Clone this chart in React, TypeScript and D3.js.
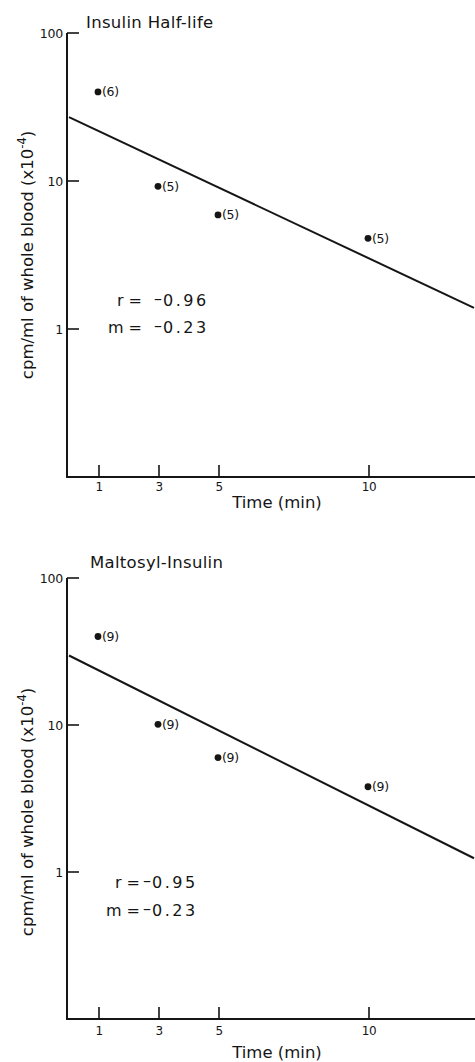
import { useRef, useEffect } from "react";
import * as d3 from "d3";

// sample times (min) and mean counts
const times = [1, 3, 5, 10];
const insulinValues = [40, 9.2, 5.9, 4.1];
const insulinN = [6, 5, 5, 5];
const maltosylValues = [40, 10.1, 6.0, 3.8];
const maltosylN = [9, 9, 9, 9];

// regression line end points (t, value)
const insulinFit = [[0, 27], [13.5, 1.39]];
const maltosylFit = [[0, 29.7], [13.5, 1.24]];

const xTicks = [1, 3, 5, 10];
const yTicks = [1, 10, 100];

const rVals = ["0.96", "0.95"];
const mVals = ["0.23", "0.23"];

const FONT = "'DejaVu Sans', sans-serif";
const INK = "#151515";

interface Panel {
  title: string;
  titleX: number;
  titleY: number;
  top: number;
  bottom: number;
  values: number[];
  n: number[];
  fit: number[][];
  rY: number;
  mY: number;
  eqRight: number;
  valStart: number;
  labelGap: number;
  xTitleY: number;
  yLabelMid: number;
}

const panels: Panel[] = [
  {
    title: "Insulin Half-life", titleX: 86, titleY: 28, top: 33, bottom: 477,
    values: insulinValues, n: insulinN, fit: insulinFit,
    rY: 306, mY: 333, eqRight: 142, valStart: 154, labelGap: 14, xTitleY: 508, yLabelMid: 255,
  },
  {
    title: "Maltosyl-Insulin", titleX: 90, titleY: 568, top: 578, bottom: 1019,
    values: maltosylValues, n: maltosylN, fit: maltosylFit,
    rY: 888, mY: 916, eqRight: 140, valStart: 143, labelGap: 16, xTitleY: 1058, yLabelMid: 812,
  },
];

export default function App() {
  const ref = useRef<SVGSVGElement>(null);

  useEffect(() => {
    if (!ref.current) return;
    const svg = d3.select(ref.current);
    svg.selectAll("*").remove();
    const axisX = 67;
    const x = d3.scaleLinear().domain([0, 13.5]).range([69, 474]);

    panels.forEach((p, pi) => {
      const y = d3.scaleLog().domain([0.1, 100]).range([p.bottom, p.top]);
      const g = svg.append("g");

      // axes
      g.append("line").attr("x1", axisX).attr("x2", axisX).attr("y1", p.top).attr("y2", p.bottom + 1)
        .attr("stroke", INK).attr("stroke-width", 2);
      g.append("line").attr("x1", axisX).attr("x2", 475).attr("y1", p.bottom).attr("y2", p.bottom)
        .attr("stroke", INK).attr("stroke-width", 2);

      yTicks.forEach(v => {
        g.append("line").attr("x1", axisX).attr("x2", axisX + 12).attr("y1", y(v)).attr("y2", y(v))
          .attr("stroke", INK).attr("stroke-width", 1.6);
        g.append("text").attr("x", 63).attr("y", y(v)).attr("dy", "0.36em").attr("text-anchor", "end")
          .attr("font-family", FONT).attr("font-size", 12.5).attr("letter-spacing", -0.2).attr("fill", INK).text(String(v));
      });
      xTicks.forEach(t => {
        g.append("line").attr("x1", x(t)).attr("x2", x(t)).attr("y1", p.bottom).attr("y2", p.bottom - 12)
          .attr("stroke", INK).attr("stroke-width", 1.6);
        g.append("text").attr("x", x(t)).attr("y", p.bottom + p.labelGap).attr("text-anchor", "middle")
          .attr("font-family", FONT).attr("font-size", 12).attr("letter-spacing", -0.4).attr("fill", INK).text(String(t));
      });

      // titles
      g.append("text").attr("x", p.titleX).attr("y", p.titleY).attr("font-family", FONT).attr("font-size", 16.5)
        .attr("letter-spacing", 0.3).attr("fill", INK).text(p.title);
      g.append("text").attr("x", 277).attr("y", p.xTitleY).attr("text-anchor", "middle")
        .attr("font-family", FONT).attr("font-size", 16.5).attr("fill", INK).text("Time (min)");

      const yl = g.append("text")
        .attr("transform", `translate(33,${p.yLabelMid}) rotate(-90)`)
        .attr("text-anchor", "middle").attr("font-family", FONT).attr("font-size", 16.5).attr("fill", INK);
      yl.append("tspan").text("cpm/ml of whole blood (x10");
      yl.append("tspan").attr("dy", -7).attr("font-size", 11.5).text("-4");
      yl.append("tspan").attr("dy", 7).text(")");

      // fit line
      const lineGen = d3.line<number[]>().x(d => x(d[0])).y(d => y(d[1]));
      g.append("path").datum(p.fit).attr("d", lineGen).attr("fill", "none")
        .attr("stroke", INK).attr("stroke-width", 2);

      // points
      times.forEach((t, i) => {
        const cx = x(t) - 1;
        const cy = y(p.values[i]);
        g.append("circle").attr("cx", cx).attr("cy", cy).attr("r", 3.4).attr("fill", INK);
        g.append("text").attr("x", cx + 4).attr("y", cy + 4.5).attr("font-family", FONT).attr("font-size", 12.5)
          .attr("letter-spacing", -0.3).attr("fill", INK).text(`(${p.n[i]})`);
      });

      // statistics
      ([["r =", rVals[pi], p.rY], ["m =", mVals[pi], p.mY]] as [string, string, number][]).forEach(([lab, val, yy]) => {
        g.append("text").attr("x", p.eqRight).attr("y", yy).attr("text-anchor", "end")
          .attr("font-family", FONT).attr("font-size", 16).attr("fill", INK).text(lab);
        const t = g.append("text").attr("x", p.valStart).attr("y", yy)
          .attr("font-family", FONT).attr("font-size", 16).attr("letter-spacing", 2.5).attr("fill", INK);
        t.append("tspan").attr("dy", -2).attr("letter-spacing", 1).text("\u2013");
        t.append("tspan").attr("dy", 2).text(val);
      });
    });
  }, []);

  return (
    <svg ref={ref} width={475} height={1062}
      style={{ position: "absolute", left: 0, top: 0, background: "#fff" }} />
  );
}
